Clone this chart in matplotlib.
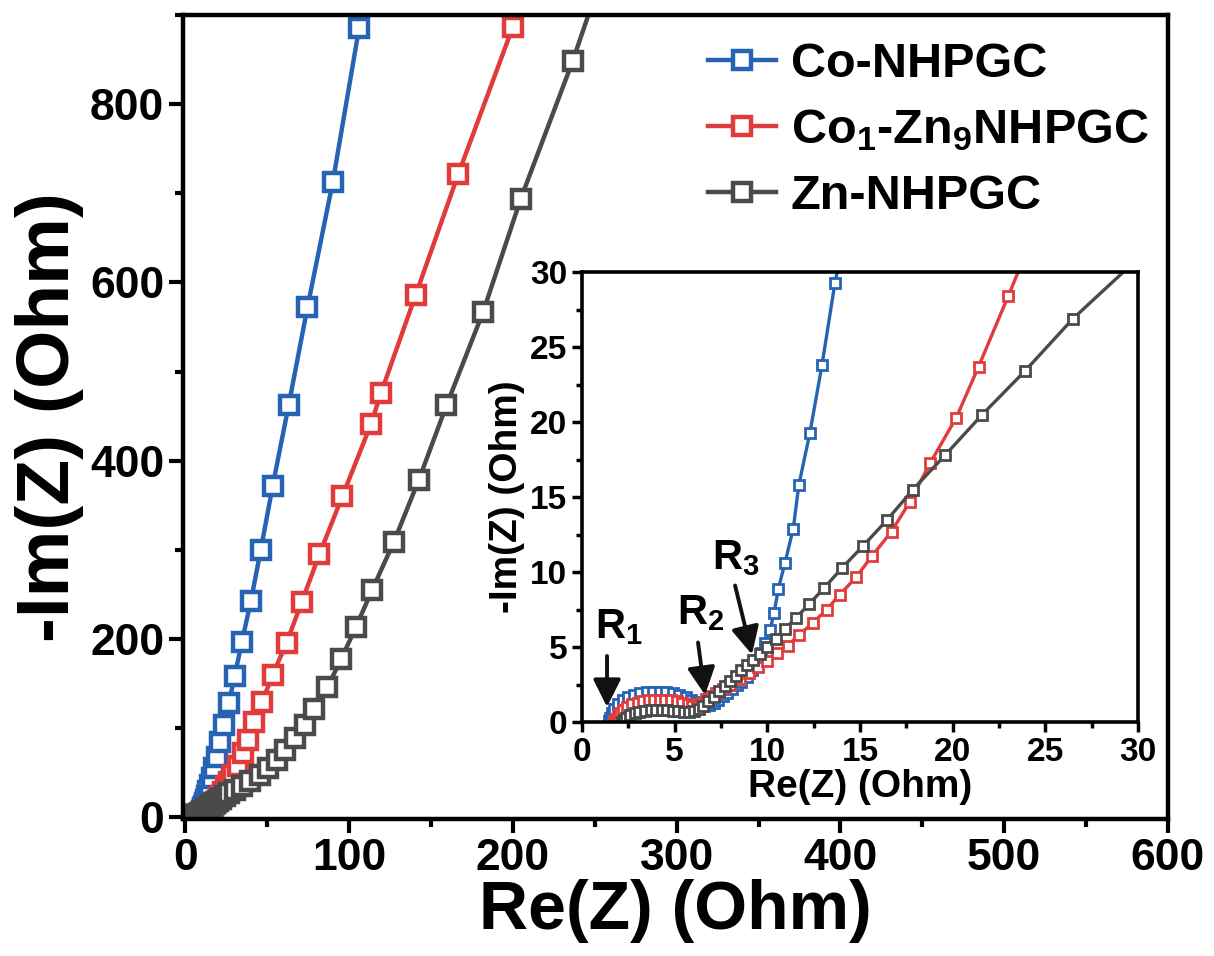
import matplotlib
matplotlib.use('Agg')
import matplotlib.pyplot as plt
from matplotlib.ticker import MultipleLocator

plt.rcParams['font.family'] = ['Liberation Sans', 'DejaVu Sans']
plt.rcParams['font.weight'] = 'bold'
plt.rcParams['mathtext.fontset'] = 'custom'
plt.rcParams['mathtext.rm'] = 'Liberation Sans:bold'
plt.rcParams['mathtext.it'] = 'Liberation Sans:bold'
plt.rcParams['mathtext.bf'] = 'Liberation Sans:bold'

# ---------------- data ----------------
labels = ['Co-NHPGC', 'Co$_1$-Zn$_9$NHPGC', 'Zn-NHPGC']
colors = ['#2763b5', '#e23b3b', '#4a4a4a']

co_re = [1.45, 1.5, 1.6, 1.75, 1.95, 2.2, 2.5, 2.8, 3.15, 3.5, 3.85, 4.2, 4.55, 4.9, 5.25,
         5.6, 5.9, 6.15, 6.4, 6.6, 6.85, 7.1, 7.35, 7.6, 7.85, 8.1, 8.35, 8.6, 8.9, 9.17,
         9.44, 9.66, 9.88, 10.15, 10.36, 10.6, 10.95, 11.4, 11.7, 12.3, 12.95, 13.65, 14.8,
         16.0, 17.3, 19.0, 21.0, 23.5, 26.5, 30.0, 34.5, 40.0, 46.0, 53.3, 63.0, 74.5, 90.0,
         106.0, 126.0]
co_im = [0.05, 0.3, 0.6, 0.9, 1.2, 1.45, 1.65, 1.8, 1.92, 1.98, 2.0, 2.0, 1.98, 1.93, 1.83,
         1.68, 1.5, 1.33, 1.18, 1.1, 1.15, 1.3, 1.5, 1.72, 1.95, 2.2, 2.45, 2.7, 3.0, 3.47,
         4.0, 4.6, 5.27, 6.13, 7.27, 8.9, 10.6, 12.9, 15.8, 19.3, 23.8, 29.3, 36.0,
         44.5, 55.0, 68.0, 84.0, 104.0, 128.0, 158.0, 197.0, 243.0, 300.0, 372.0, 462.0, 572.0, 713.0,
         885.0, 1090.0]

cozn_re = [1.75, 1.82, 1.92, 2.05, 2.22, 2.45, 2.7, 3.0, 3.3, 3.6, 3.9, 4.2, 4.5, 4.8, 5.1,
           5.4, 5.7, 5.95, 6.2, 6.45, 6.7, 6.95, 7.25, 7.6, 8.0, 8.5, 9.0, 9.5, 10.0, 10.5,
           11.1, 11.7, 12.45, 13.2, 13.9, 14.8, 15.65, 16.7, 17.7, 18.8, 20.2, 21.4, 23.0,
           24.7, 26.8, 29.2, 32.0, 35.0, 38.2, 41.8, 46.7, 53.3, 61.8, 70.9, 81.8, 95.8,
           113.3, 119.4, 140.6, 166.7, 200.0, 240.0]
cozn_im = [0.0, 0.2, 0.4, 0.6, 0.8, 1.0, 1.17, 1.3, 1.4, 1.46, 1.5, 1.5, 1.48, 1.44, 1.37,
           1.28, 1.18, 1.1, 1.1, 1.3, 1.55, 1.75, 1.95, 2.2, 2.5, 2.9, 3.3, 3.7, 4.1, 4.6,
           5.1, 5.8, 6.6, 7.5, 8.47, 9.67, 11.07, 12.7, 14.7, 17.3, 20.3, 23.7, 28.4,
           33.5, 39.5, 47.0, 58.0, 72.0, 87.0, 107.0, 129.0, 160.0, 196.0, 241.0, 295.0, 360.0,
           441.0, 476.0, 586.0, 722.0, 887.0, 1090.0]

zn_re = [2.15, 2.25, 2.4, 2.6, 2.85, 3.1, 3.4, 3.7, 4.0, 4.3, 4.6, 4.9, 5.2, 5.5, 5.8,
         6.05, 6.3, 6.55, 6.8, 7.1, 7.4, 7.7, 8.0, 8.3, 8.6, 8.9, 9.25, 9.6, 10.0, 10.45,
         10.95, 11.55, 12.25, 13.06, 14.03, 15.16, 16.46, 17.86, 19.6, 21.6, 23.9, 26.5,
         30.0, 34.3, 39.6, 45.5, 50.3, 55.8, 61.0, 66.7, 72.7, 78.5, 86.7, 95.0, 104.0,
         114.0, 127.3, 142.4, 159.4, 181.8, 204.8, 236.4, 272.0]
zn_im = [0.0, 0.15, 0.3, 0.45, 0.58, 0.67, 0.74, 0.78, 0.8, 0.8, 0.79, 0.76, 0.73, 0.7, 0.7,
         0.75, 0.88, 1.1, 1.38, 1.7, 2.05, 2.4, 2.75, 3.1, 3.45, 3.8, 4.15, 4.55, 5.0, 5.55,
         6.2, 6.95, 7.85, 8.93, 10.27, 11.73, 13.47, 15.5, 17.8, 20.5, 23.4, 26.9,
         30.9, 35.4, 40.8, 47.0, 55.0, 64.0, 75.0, 89.0, 103.5, 121.0, 146.0, 177.0, 213.0,
         255.0, 309.0, 378.0, 462.0, 567.0, 694.0, 848.0, 1040.0]

series = [(co_re, co_im), (cozn_re, cozn_im), (zn_re, zn_im)]

main_xticks = [0, 100, 200, 300, 400, 500, 600]
main_yticks = [0, 200, 400, 600, 800]
inset_ticks = [0, 5, 10, 15, 20, 25, 30]

# ---------------- figure ----------------
fig = plt.figure(figsize=(12.14, 9.56), dpi=100)
ax = fig.add_axes([183 / 1214, 1 - 819 / 956, (1168 - 183) / 1214, (819 - 15) / 956])

for (xr, yi), c, lab in zip(series, colors, labels):
    ax.plot(xr, yi, '-', color=c, lw=3.2, marker='s', ms=13, mfc='white',
            mec=c, mew=3.2, label=lab)

ax.set_xlim(-1.5, 600)
ax.set_ylim(-2, 900)
ax.set_xticks(main_xticks)
ax.set_yticks(main_yticks)
ax.xaxis.set_minor_locator(MultipleLocator(50))
ax.yaxis.set_minor_locator(MultipleLocator(100))
ax.tick_params(which='major', direction='out', length=10, width=3, labelsize=32)
ax.tick_params(which='minor', direction='out', length=6, width=3)
for s in ax.spines.values():
    s.set_linewidth(3.2)
ax.set_xlabel('Re(Z) (Ohm)', fontsize=49, fontweight='bold', labelpad=0)
ax.set_ylabel('-Im(Z) (Ohm)', fontsize=54, fontweight='bold', labelpad=4)

leg = fig.legend(loc='upper left', bbox_to_anchor=(708 / 1214, 1 - 42 / 956),
                 frameon=False, fontsize=35, handlelength=1.4, handletextpad=0.3,
                 labelspacing=0.42, borderpad=0, borderaxespad=0)

# ---------------- inset ----------------
axi = fig.add_axes([582 / 1214, 1 - 722 / 956, (1138 - 582) / 1214, (722 - 272) / 956])
axi.set_facecolor('white')
for (xr, yi), c in zip(series, colors):
    axi.plot(xr, yi, '-', color=c, lw=2.4, marker='s', ms=6.5, mfc='white',
             mec=c, mew=2.0)
axi.set_xlim(0, 30)
axi.set_ylim(0, 30)
axi.set_xticks(inset_ticks)
axi.set_yticks(inset_ticks)
axi.xaxis.set_minor_locator(MultipleLocator(2.5))
axi.yaxis.set_minor_locator(MultipleLocator(2.5))
axi.tick_params(which='major', direction='out', length=7, width=2.5, labelsize=24)
axi.tick_params(which='minor', direction='out', length=4, width=2.5)
for s in axi.spines.values():
    s.set_linewidth(2.6)
axi.set_xlabel('Re(Z) (Ohm)', fontsize=28, fontweight='bold', labelpad=1)
axi.set_ylabel('-Im(Z) (Ohm)', fontsize=28, fontweight='bold', labelpad=4)

arrow_kw = dict(arrowstyle='-|>', color='#111111', lw=2.8, mutation_scale=42,
                shrinkA=0, shrinkB=0)
axi.annotate('', xy=(1.35, 1.0), xytext=(1.35, 4.4), arrowprops=arrow_kw)
axi.annotate('', xy=(6.64, 1.8), xytext=(6.26, 5.3), arrowprops=arrow_kw)
axi.annotate('', xy=(9.17, 4.5), xytext=(8.26, 9.1), arrowprops=arrow_kw)
axi.text(2.0, 5.0, 'R$_1$', fontsize=30, ha='center', va='bottom')
axi.text(6.4, 5.9, 'R$_2$', fontsize=30, ha='center', va='bottom')
axi.text(8.3, 9.6, 'R$_3$', fontsize=30, ha='center', va='bottom')

fig.savefig('out.png', dpi=100)
